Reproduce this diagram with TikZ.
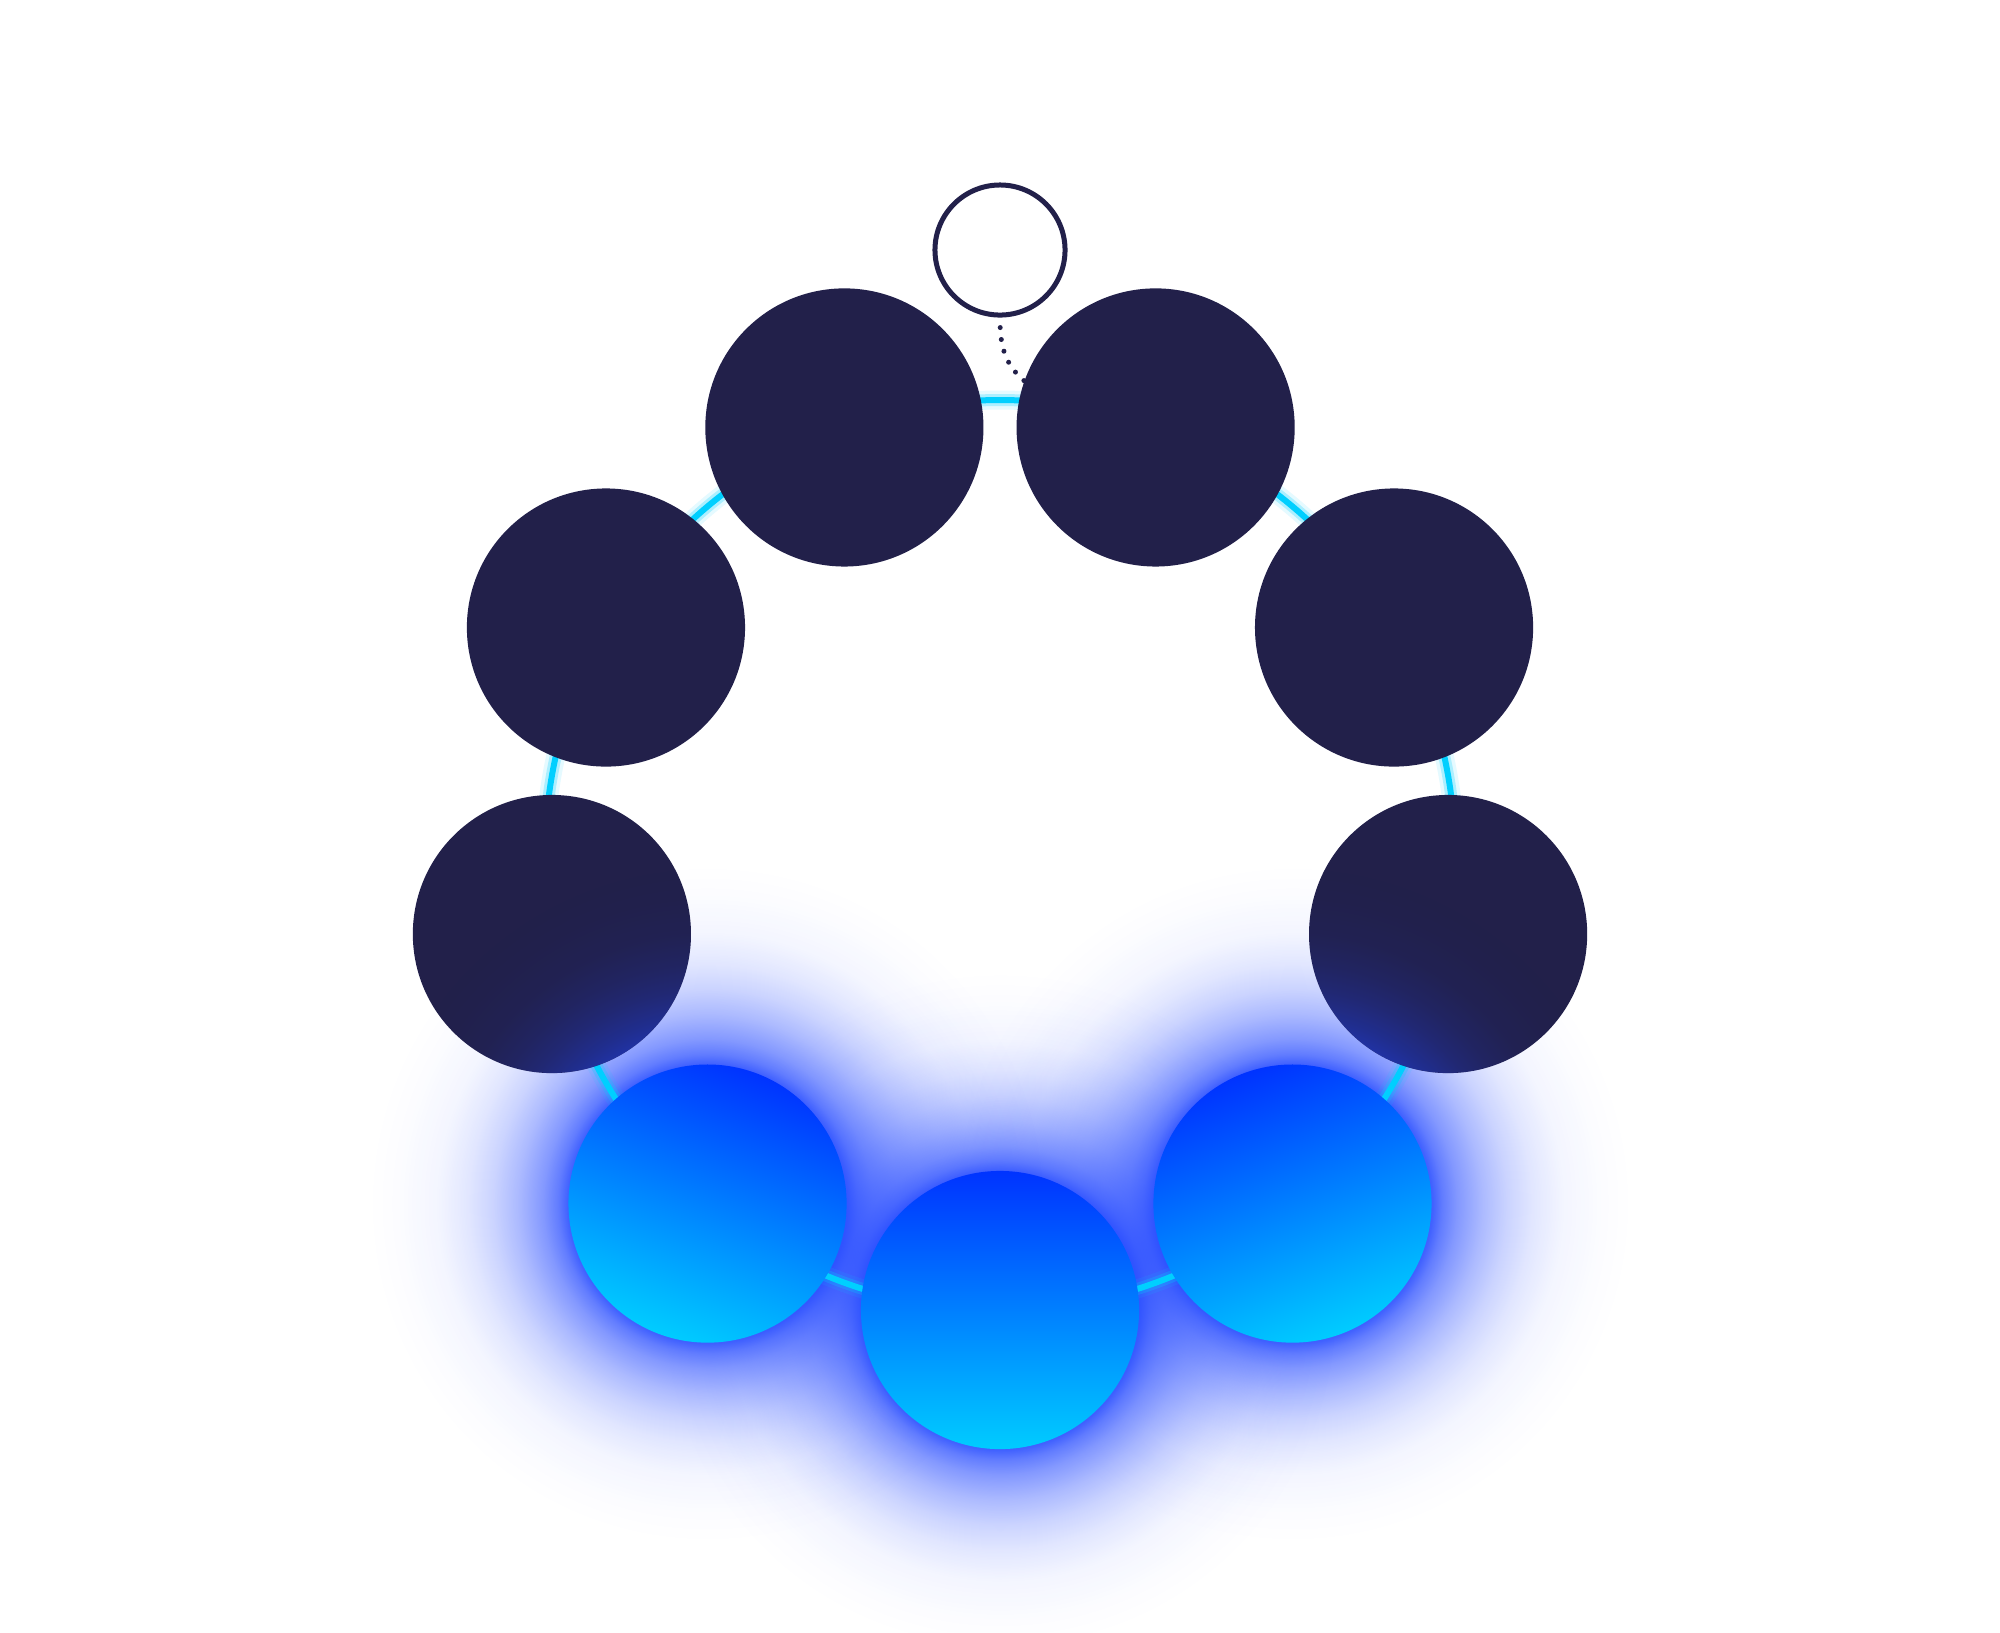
\documentclass[tikz,border=0pt]{standalone}
\usetikzlibrary{fadings}
\definecolor{navy}{HTML}{22204A}
\definecolor{ringcyan}{HTML}{00CFFF}
\definecolor{glowblue}{HTML}{1F45FF}
\definecolor{nodeblue}{HTML}{0033FF}
\definecolor{nodecyan}{HTML}{00CCFF}
\definecolor{gA}{gray}{0.85}
\definecolor{gB}{gray}{0.70}
\definecolor{gC}{gray}{0.55}
\definecolor{gD}{gray}{0.37}
\definecolor{gE}{gray}{0.23}
\definecolor{gF}{gray}{0.13}
\definecolor{gG}{gray}{0.05}
\definecolor{gH}{gray}{0.012}
\definecolor{gZ}{gray}{0}
\pgfdeclareradialshading{glowshade}{\pgfpointorigin}{color(0bp)=(gA); color(10.22bp)=(gA); color(10.96bp)=(gB); color(12.06bp)=(gC); color(13.90bp)=(gD); color(15.74bp)=(gE); color(17.58bp)=(gF); color(19.78bp)=(gG); color(22.72bp)=(gH); color(24.9bp)=(gZ); color(50bp)=(gZ)}
\pgfdeclarefading{glowfade}{\pgfuseshading{glowshade}}
\begin{document}
\begin{tikzpicture}[x=0.01cm,y=-0.01cm,
  ringnode/.style={circle, minimum size=2.78cm, inner sep=0pt, outer sep=0pt},
  darknode/.style={ringnode, fill=navy},
  bluenode/.style={ringnode, top color=nodeblue, bottom color=nodecyan},
  glow/.style={fill=glowblue, path fading=glowfade},
  ringline/.style={draw=ringcyan},
  dotline/.style={draw=navy, line width=0.05cm, line cap=round, dash pattern=on 0pt off 0.12cm, dash phase=0.02cm},
  topnode/.style={circle, draw=navy, line width=0.05cm, fill=white, minimum size=1.30cm, inner sep=0pt}]
\fill[white] (0,0) rectangle (2000,1632);
\useasboundingbox (0,0) rectangle (2000,1632);
\coordinate (rc) at (1000,855);
\foreach \i/\a in {1/20,2/60,3/100,4/140,5/180,6/220,7/260,8/300,9/340}
  \coordinate (p\i) at ({1000+455*sin(\a)},{855-455*cos(\a)});
% removed element above the gap
\node[topnode] (top) at (1000,250) {};
% glow of the active nodes
\foreach \i in {4,5,6} \fill[glow] (p\i) circle (340);
% ring
\draw[ringline, line width=0.19cm, opacity=0.10] (rc) circle (455);
\draw[ringline, line width=0.12cm, opacity=0.25] (rc) circle (455);
\draw[ringline, line width=0.06cm] (rc) circle (455);
% dotted connector
\draw[dotline] (top.south) .. controls (1000,365) and (1010,400) .. (p1);
% inactive nodes
\foreach \i in {1,2,3,7,8,9} \node[darknode] (n\i) at (p\i) {};
% glow tint on neighbours
\begin{scope}
  \clip (p3) circle (139);
  \fill[glow] (p4) circle (340);
\end{scope}
\begin{scope}
  \clip (p7) circle (139);
  \fill[glow] (p6) circle (340);
\end{scope}
% active nodes
\node[bluenode, shading angle=20] (n4) at (p4) {};
\node[bluenode] (n5) at (p5) {};
\node[bluenode, shading angle=-20] (n6) at (p6) {};
\end{tikzpicture}
\end{document}
